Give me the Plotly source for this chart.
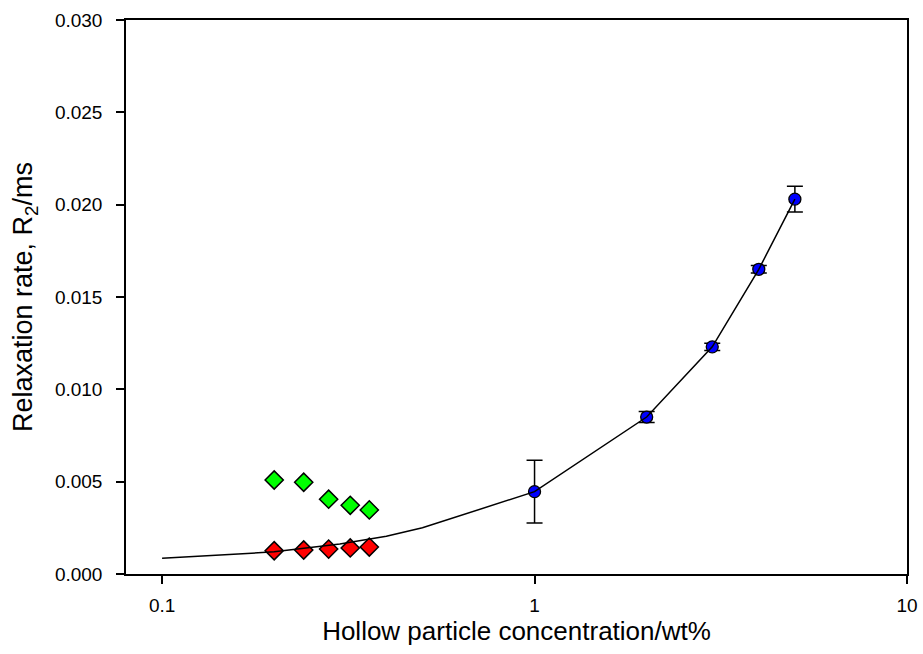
import numpy as np
import plotly.graph_objects as go

# Data
conc_blue = [1, 2, 3, 4, 5]
r2_blue = [0.00446, 0.0085, 0.0123, 0.0165, 0.0203]
err_blue = [0.0017, 0.0003, 0.0002, 0.0002, 0.0007]

conc_diamond = [0.2, 0.24, 0.28, 0.32, 0.36]
r2_red = [0.00126, 0.0013, 0.00135, 0.00141, 0.00146]
r2_green = [0.00509, 0.00497, 0.00405, 0.00372, 0.00347]

conc_line = [0.1, 0.2, 0.3, 0.4, 0.5, 1, 2, 3, 4, 5]
r2_line = [0.00085, 0.0012, 0.00162, 0.00205, 0.0025, 0.00446, 0.0085, 0.0123, 0.0165, 0.0203]

x_ticks = [0.1, 1, 10]
x_tick_text = ["0.1", "1", "10"]

FONT = "Liberation Sans, Arial, sans-serif"

fig = go.Figure()

fig.add_trace(go.Scatter(
    x=conc_diamond, y=r2_green, mode="markers",
    marker=dict(symbol="diamond", size=14, color="#00FF00",
                line=dict(color="black", width=1.5)),
    showlegend=False))

fig.add_trace(go.Scatter(
    x=conc_diamond, y=r2_red, mode="markers",
    marker=dict(symbol="diamond", size=14, color="#FF0000",
                line=dict(color="black", width=1.5)),
    showlegend=False))

fig.add_trace(go.Scatter(
    x=conc_blue, y=r2_blue, mode="markers",
    marker=dict(symbol="circle", size=12, color="#0000FF",
                line=dict(color="black", width=1.3)),
    error_y=dict(type="data", array=err_blue, visible=True,
                 color="black", thickness=1.5, width=8),
    showlegend=False))

fig.add_trace(go.Scatter(
    x=conc_line, y=r2_line, mode="lines",
    line=dict(color="black", width=1.5),
    showlegend=False))

fig.update_layout(
    width=923, height=654,
    margin=dict(l=126, r=16, t=20, b=80),
    paper_bgcolor="white", plot_bgcolor="white",
    font=dict(family=FONT, size=19, color="black"),
)

fig.update_xaxes(
    type="log", range=[np.log10(0.08), 1],
    tickvals=x_ticks, ticktext=x_tick_text,
    ticks="outside", ticklen=8, tickwidth=1.5, tickcolor="black",
    showline=True, linecolor="black", linewidth=1.5, mirror=True,
    showgrid=False, zeroline=False, automargin=False,
    tickfont=dict(size=19), ticklabelstandoff=5,
    title=dict(text="Hollow particle concentration/wt%", font=dict(size=26), standoff=6),
)

fig.update_yaxes(
    range=[0, 0.030], dtick=0.005, tickformat=".3f",
    ticks="outside", ticklen=8, tickwidth=1.5, tickcolor="black",
    showline=True, linecolor="black", linewidth=1.5, mirror=True,
    showgrid=False, zeroline=False, automargin=False,
    tickfont=dict(size=19), ticklabelstandoff=10,
    title=dict(text="Relaxation rate, R<sub>2</sub>/ms", font=dict(size=27), standoff=14),
)

fig.write_html("out.html")
